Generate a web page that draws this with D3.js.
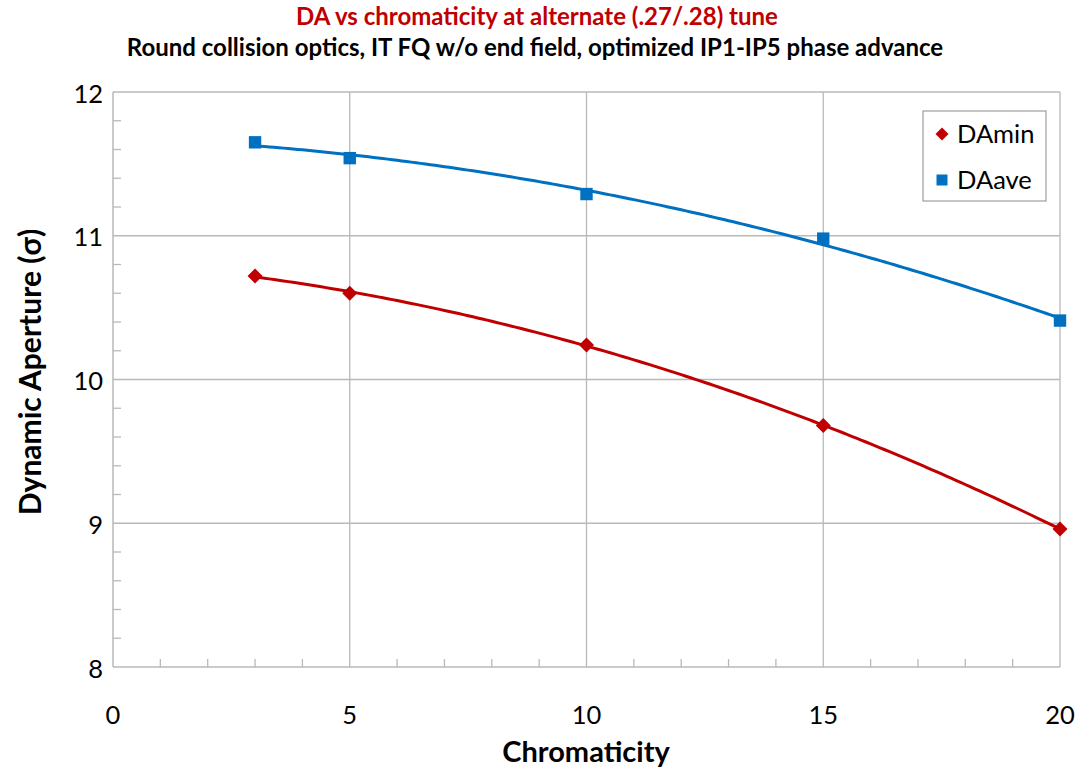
<!DOCTYPE html>
<html><head><meta charset="utf-8">
<script src="https://cdn.jsdelivr.net/npm/d3@7"></script>
<style>body{margin:0;background:#fff}svg{display:block}text{font-family:Lato,"Open Sans",sans-serif}</style>
</head><body>
<svg id="c" width="1077" height="770"></svg>
<script>
const chromaticity = [3, 5, 10, 15, 20];
const daMin = [10.72, 10.60, 10.24, 9.68, 8.96];
const daAve = [11.65, 11.54, 11.29, 10.98, 10.41];
const xTicks = [0, 5, 10, 15, 20];
const yTicks = [8, 9, 10, 11, 12];
const seriesNames = ["DAmin", "DAave"];

const svg = d3.select("#c");
const m = {l:113, r:1060, t:92, b:667};
const x = d3.scaleLinear().domain([0,20]).range([m.l, m.r]);
const y = d3.scaleLinear().domain([8,12]).range([m.b, m.t]);
const grid = "#b9b9b9";

// gridlines
svg.append("g").selectAll("line").data(yTicks.filter(d=>d>8)).join("line")
  .attr("x1", m.l).attr("x2", m.r).attr("y1", d=>y(d)).attr("y2", d=>y(d))
  .attr("stroke", grid).attr("stroke-width", 1.3);
svg.append("g").selectAll("line").data(xTicks.filter(d=>d>0)).join("line")
  .attr("y1", m.t).attr("y2", m.b).attr("x1", d=>x(d)).attr("x2", d=>x(d))
  .attr("stroke", grid).attr("stroke-width", 1.3);

// minor ticks
const yMinor = d3.range(8, 12.001, 0.2).filter(v => Math.abs(v - Math.round(v)) > 1e-6);
svg.append("g").selectAll("line").data(yMinor).join("line")
  .attr("x1", m.l).attr("x2", m.l+8).attr("y1", d=>y(d)).attr("y2", d=>y(d))
  .attr("stroke", grid).attr("stroke-width", 1.3);
const xMinor = d3.range(1, 20).filter(v => v % 5 !== 0);
svg.append("g").selectAll("line").data(xMinor).join("line")
  .attr("y1", m.b).attr("y2", m.b-8).attr("x1", d=>x(d)).attr("x2", d=>x(d))
  .attr("stroke", grid).attr("stroke-width", 1.3);

// axes
svg.append("line").attr("x1", m.l).attr("x2", m.l).attr("y1", m.t).attr("y2", m.b).attr("stroke", grid).attr("stroke-width", 1.5);
svg.append("line").attr("x1", m.l).attr("x2", m.r).attr("y1", m.b).attr("y2", m.b).attr("stroke", grid).attr("stroke-width", 1.5);

// tick labels
svg.append("g").selectAll("text").data(yTicks).join("text")
  .attr("x", 103).attr("y", d=>y(d)+10.5).attr("text-anchor","end")
  .attr("font-size", 25.5).attr("fill","#000").text(d=>d);
svg.append("g").selectAll("text").data(xTicks).join("text")
  .attr("x", d=>x(d)).attr("y", 724).attr("text-anchor","middle")
  .attr("font-size", 25.5).attr("fill","#000").text(d=>d);

// titles
svg.append("text").attr("x", 537).attr("y", 25).attr("text-anchor","middle")
  .attr("font-size", 24).attr("font-weight","bold").attr("fill","#C00000")
  .text("DA vs chromaticity at alternate (.27/.28) tune");
svg.append("text").attr("x", 535).attr("y", 56).attr("text-anchor","middle")
  .attr("font-size", 24).attr("font-weight","bold").attr("fill","#000")
  .text("Round collision optics, IT FQ w/o end field, optimized IP1-IP5 phase advance");
svg.append("text").attr("x", 586).attr("y", 762).attr("text-anchor","middle")
  .attr("font-size", 29).attr("font-weight","bold").attr("fill","#000").text("Chromaticity");
svg.append("text").attr("transform","translate(41,372) rotate(-90)").attr("text-anchor","middle")
  .attr("font-size", 30).attr("font-weight","bold").attr("fill","#000").text("Dynamic Aperture (σ)");

// quadratic least-squares trendline
function quadFit(xs, ys){
  let S=[0,0,0,0,0], T=[0,0,0];
  xs.forEach((xi,i)=>{ for(let k=0;k<5;k++) S[k]+=Math.pow(xi,k); for(let k=0;k<3;k++) T[k]+=ys[i]*Math.pow(xi,k); });
  const A=[[S[0],S[1],S[2],T[0]],[S[1],S[2],S[3],T[1]],[S[2],S[3],S[4],T[2]]];
  for(let i=0;i<3;i++){ for(let j=i+1;j<3;j++){ const f=A[j][i]/A[i][i]; for(let k=i;k<4;k++) A[j][k]-=f*A[i][k]; } }
  const c=[0,0,0];
  for(let i=2;i>=0;i--){ let s=A[i][3]; for(let k=i+1;k<3;k++) s-=A[i][k]*c[k]; c[i]=s/A[i][i]; }
  return v => c[0]+c[1]*v+c[2]*v*v;
}
const diamond = r => `M0,${-r}L${r},0L0,${r}L${-r},0Z`;
const square = h => `M${-h},${-h}H${h}V${h}H${-h}Z`;
const series = [
  {name: seriesNames[0], vals: daMin, color: "#C00000", shape: ()=>diamond(7.5), lshape: ()=>diamond(6.5)},
  {name: seriesNames[1], vals: daAve, color: "#0070C0", shape: ()=>square(6.2), lshape: ()=>square(5.5)}
];
const xs = d3.range(chromaticity[0], chromaticity[chromaticity.length-1]+0.001, 0.1);
series.forEach(s=>{
  const f = quadFit(chromaticity, s.vals);
  svg.append("path").datum(xs).attr("fill","none").attr("stroke", s.color).attr("stroke-width", 3)
    .attr("d", d3.line().x(d=>x(d)).y(d=>y(f(d))));
  svg.append("g").selectAll("path").data(chromaticity).join("path")
    .attr("transform",(d,i)=>`translate(${x(d)},${y(s.vals[i])})`)
    .attr("d", s.shape()).attr("fill", s.color);
});

// legend
svg.append("rect").attr("x", 923).attr("y", 111).attr("width", 123).attr("height", 90)
  .attr("fill","#fff").attr("stroke","#a6a6a6").attr("stroke-width",1.3);
series.forEach((s,i)=>{
  const ly = 134 + i*46;
  svg.append("path").attr("transform",`translate(942,${ly})`)
    .attr("d", s.lshape()).attr("fill", s.color);
  svg.append("text").attr("x", 957).attr("y", ly+9).attr("font-size", 25.5).attr("fill","#000").text(s.name);
});
</script>
</body></html>
